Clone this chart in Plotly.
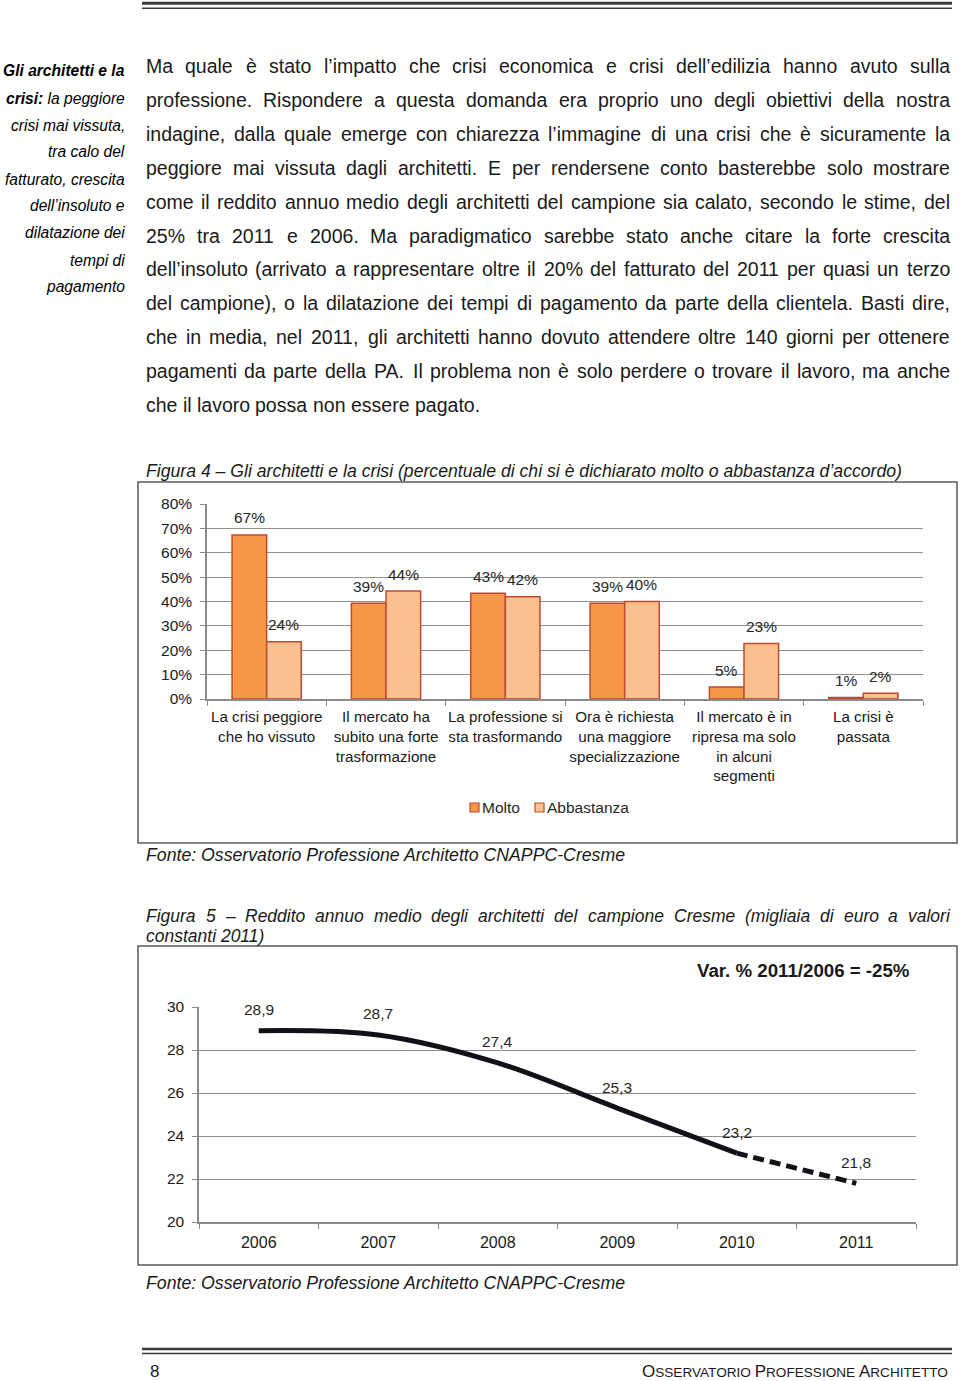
import plotly.graph_objects as go

W, H = 960, 1381


def px(x):
    return x / W


def py(y):
    return 1 - y / H


# ---------------- data ----------------
categories = [
    "La crisi peggiore<br>che ho vissuto",
    "Il mercato ha<br>subito una forte<br>trasformazione",
    "La professione si<br>sta trasformando",
    "Ora è richiesta<br>una maggiore<br>specializzazione",
    "Il mercato è in<br>ripresa ma solo<br>in alcuni<br>segmenti",
    "La crisi è<br>passata",
]
molto = [0.673, 0.393, 0.434, 0.393, 0.049, 0.006]
abbastanza = [0.235, 0.443, 0.420, 0.400, 0.228, 0.024]
molto_labels = ["67%", "39%", "43%", "39%", "5%", "1%"]
abbastanza_labels = ["24%", "44%", "42%", "40%", "23%", "2%"]
series_names = ["Molto", "Abbastanza"]

years = ["2006", "2007", "2008", "2009", "2010", "2011"]
reddito = [28.9, 28.7, 27.4, 25.3, 23.2, 21.8]
reddito_labels = ["28,9", "28,7", "27,4", "25,3", "23,2", "21,8"]

sidebar_lines = [
    "<b><i>Gli architetti e la</i></b>",
    "<b><i>crisi:</i></b><i> la peggiore</i>",
    "<i>crisi mai vissuta,</i>",
    "<i>tra calo del</i>",
    "<i>fatturato, crescita</i>",
    "<i>dell’insoluto e</i>",
    "<i>dilatazione dei</i>",
    "<i>tempi di</i>",
    "<i>pagamento</i>",
]

body_lines = [
    "Ma quale è stato l’impatto che crisi economica e crisi dell’edilizia hanno avuto sulla",
    "professione. Rispondere a questa domanda era proprio uno degli obiettivi della nostra",
    "indagine, dalla quale emerge con chiarezza l’immagine di una crisi che è sicuramente la",
    "peggiore mai vissuta dagli architetti. E per rendersene conto basterebbe solo mostrare",
    "come il reddito annuo medio degli architetti del campione sia calato, secondo le stime, del",
    "25% tra 2011 e 2006. Ma paradigmatico sarebbe stato anche citare la forte crescita",
    "dell’insoluto (arrivato a rappresentare oltre il 20% del fatturato del 2011 per quasi un terzo",
    "del campione), o la dilatazione dei tempi di pagamento da parte della clientela. Basti dire,",
    "che in media, nel 2011, gli architetti hanno dovuto attendere oltre 140 giorni per ottenere",
    "pagamenti da parte della PA. Il problema non è solo perdere o trovare il lavoro, ma anche",
    "che il lavoro possa non essere pagato.",
]

fig4_caption = "Figura 4 – Gli architetti e la crisi (percentuale di chi si è dichiarato molto o abbastanza d’accordo)"
fig5_caption = [
    "Figura 5 – Reddito annuo medio degli architetti del campione Cresme (migliaia di euro a valori",
    "constanti 2011)",
]
fonte_text = "Fonte: Osservatorio Professione Architetto CNAPPC-Cresme"
var_text = "Var. % 2011/2006 = -25%"

# ---------------- styles ----------------
FONT = "Liberation Sans, Arial, sans-serif"
C_MOLTO = "#F79646"
C_ABB = "#FAC090"
C_EDGE = "#BE4B2F"
C_GRID = "#909090"
C_AXIS = "#8a8a8a"
C_TXT = "#262626"

# Arial metrics (per 1000 em)
_W = {" ": 278, "%": 889, "(": 333, ")": 333, ",": 278, "-": 333, ".": 278, "/": 278,
      ":": 278, "=": 584, "’": 222, "'": 191, "–": 556, "è": 556, "é": 556, "à": 556,
      "ò": 556, "ù": 556, "ì": 278}
for ch in "0123456789":
    _W[ch] = 556
_W.update(dict(zip("ABCDEFGHIJKLMNOPQRSTUVWXYZ",
                   [667, 667, 722, 722, 667, 611, 778, 722, 278, 500, 667, 556, 833, 722,
                    778, 667, 778, 722, 667, 611, 722, 667, 944, 667, 667, 611])))
_W.update(dict(zip("abcdefghijklmnopqrstuvwxyz",
                   [556, 556, 500, 556, 556, 278, 556, 556, 222, 222, 500, 222, 833, 556,
                    556, 556, 556, 333, 500, 278, 556, 500, 722, 500, 500, 500])))


def text_w(s, size):
    return sum(_W.get(c, 556) for c in s) * size / 1000.0


annotations = []


def ann(x, y, text, size, color="#000", xanchor="left", yanchor="middle", **kw):
    annotations.append(dict(
        xref="paper", yref="paper", x=px(x), y=py(y), text=text, showarrow=False,
        xanchor=xanchor, yanchor=yanchor, borderpad=0,
        font=dict(family=FONT, size=size, color=color), **kw))


def justified(line, y, x0, x1, size, color, wrap=("", ""), last=False):
    words = line.split(" ")
    widths = [text_w(w, size) for w in words]
    if last or len(words) == 1:
        gap = text_w(" ", size)
    else:
        gap = (x1 - x0 - sum(widths)) / (len(words) - 1)
    x = x0
    for w, wd in zip(words, widths):
        ann(x, y, wrap[0] + w + wrap[1], size, color)
        x += wd + gap


# ---------------- page text ----------------
for i, t in enumerate(sidebar_lines):
    ann(126, 71 + i * 27, t, 15.6, "#000", xanchor="right")

BODY_SIZE = 19.5
for i, line in enumerate(body_lines):
    justified(line, 66 + i * 33.9, 145, 949, BODY_SIZE, "#1a1a1a",
              last=(i == len(body_lines) - 1))

ann(145, 471, "<i>" + fig4_caption + "</i>", 17.65, "#1a1a1a")
ann(145, 855, "<i>" + fonte_text + "</i>", 17.7, "#1a1a1a")
justified(fig5_caption[0], 916, 145, 949, 17.5, "#1a1a1a", wrap=("<i>", "</i>"))
ann(145, 936, "<i>" + fig5_caption[1] + "</i>", 17.5, "#1a1a1a")
ann(145, 1283, "<i>" + fonte_text + "</i>", 17.7, "#1a1a1a")

ann(911, 970, "<b>" + var_text + "</b>", 18.7, "#1a1a1a", xanchor="right")

# footer
ann(149, 1371, "8", 17, "#1a1a1a")
sc = lambda big, small: '<span style="font-size:17px">' + big + "</span>" + small
ann(949, 1371, sc("O", "SSERVATORIO ") + sc("P", "ROFESSIONE ") + sc("A", "RCHITETTO"),
    13.6, "#1a1a1a", xanchor="right")

# ---------------- bar chart (Figura 4) ----------------
fig = go.Figure()
fig.add_trace(go.Bar(x=categories, y=molto, name=series_names[0],
                     marker=dict(color=C_MOLTO, line=dict(color=C_EDGE, width=1.5)),
                     xaxis="x", yaxis="y", showlegend=False, hoverinfo="skip"))
fig.add_trace(go.Bar(x=categories, y=abbastanza, name=series_names[1],
                     marker=dict(color=C_ABB, line=dict(color=C_EDGE, width=1.5)),
                     xaxis="x", yaxis="y", showlegend=False, hoverinfo="skip"))

for i, (v, lab) in enumerate(zip(molto, molto_labels)):
    annotations.append(dict(xref="x", yref="y", x=i, y=v, text=lab, showarrow=False,
                            xshift=-17.3, yshift=17, yanchor="middle",
                            font=dict(family=FONT, size=15.5, color=C_TXT)))
for i, (v, lab) in enumerate(zip(abbastanza, abbastanza_labels)):
    annotations.append(dict(xref="x", yref="y", x=i, y=v, text=lab, showarrow=False,
                            xshift=17.3, yshift=17, yanchor="middle",
                            font=dict(family=FONT, size=15.5, color=C_TXT)))

# custom legend
shapes = []
leg_items = [(470, C_MOLTO, series_names[0]), (535, C_ABB, series_names[1])]
for lx, col, name in leg_items:
    shapes.append(dict(type="rect", xref="paper", yref="paper",
                       x0=px(lx), x1=px(lx + 9), y0=py(812), y1=py(803),
                       fillcolor=col, line=dict(color=C_EDGE, width=1.2)))
    ann(lx + 11, 807, name, 15.5, C_TXT)

# ---------------- line chart (Figura 5) ----------------
fig.add_trace(go.Scatter(x=years[:5], y=reddito[:5], mode="lines",
                         line=dict(color="#111118", width=5, shape="spline", smoothing=1),
                         xaxis="x2", yaxis="y2", showlegend=False, hoverinfo="skip"))
fig.add_trace(go.Scatter(x=years[4:], y=reddito[4:], mode="lines",
                         line=dict(color="#111118", width=5, dash="11px,6px"),
                         xaxis="x2", yaxis="y2", showlegend=False, hoverinfo="skip"))
for i, (v, lab) in enumerate(zip(reddito, reddito_labels)):
    annotations.append(dict(xref="x2", yref="y2", x=i, y=v, text=lab, showarrow=False,
                            yshift=21, yanchor="middle",
                            font=dict(family=FONT, size=15.5, color=C_TXT)))

# frames and rules
shapes += [
    dict(type="rect", xref="paper", yref="paper", x0=px(138), x1=px(957), y0=py(843), y1=py(482),
         line=dict(color="#5a5a5a", width=1.5)),
    dict(type="rect", xref="paper", yref="paper", x0=px(138), x1=px(957), y0=py(1265), y1=py(946),
         line=dict(color="#5a5a5a", width=1.5)),
    dict(type="line", xref="paper", yref="paper", x0=px(142), x1=px(952), y0=py(3.3), y1=py(3.3),
         line=dict(color="#3a3a3a", width=3)),
    dict(type="line", xref="paper", yref="paper", x0=px(142), x1=px(952), y0=py(8.3), y1=py(8.3),
         line=dict(color="#3a3a3a", width=1.5)),
    dict(type="line", xref="paper", yref="paper", x0=px(142), x1=px(952), y0=py(1349), y1=py(1349),
         line=dict(color="#3a3a3a", width=2.5)),
    dict(type="line", xref="paper", yref="paper", x0=px(142), x1=px(952), y0=py(1353.5), y1=py(1353.5),
         line=dict(color="#3a3a3a", width=1.5)),
]

axis_common = dict(showline=True, linecolor=C_AXIS, linewidth=1.5, ticks="outside",
                   ticklen=5, tickcolor=C_AXIS, tickwidth=1.3, fixedrange=True, zeroline=False,
                   automargin=False)

fig.update_layout(
    width=W, height=H, autosize=False,
    margin=dict(l=0, r=0, t=0, b=0, pad=0, autoexpand=False),
    paper_bgcolor="white", plot_bgcolor="rgba(0,0,0,0)",
    barmode="group", bargap=0.42, bargroupgap=0,
    showlegend=False,
    font=dict(family=FONT, color=C_TXT),
    xaxis=dict(domain=[px(207), px(923)], anchor="y", type="category", tickson="boundaries",
               range=[-0.5, 5.5], autorange=False, tickangle=0,
               showgrid=False, tickfont=dict(size=15.2, color="#1a1a1a"),
               ticklabelstandoff=3, **axis_common),
    yaxis=dict(domain=[py(699), py(504)], anchor="x", range=[0, 0.8], dtick=0.1,
               tickformat=".0%", showgrid=True, gridcolor=C_GRID, gridwidth=1.4,
               tickfont=dict(size=15.5, color="#1a1a1a"), ticklabelstandoff=5, **axis_common),
    xaxis2=dict(domain=[px(199), px(916)], anchor="y2", type="category", tickson="boundaries",
                range=[-0.5, 5.5], autorange=False, tickangle=0,
                showgrid=False, tickfont=dict(size=16, color="#1a1a1a"),
                ticklabelstandoff=5, **axis_common),
    yaxis2=dict(domain=[py(1222), py(1007)], anchor="x2", range=[20, 30], dtick=2,
                showgrid=True, gridcolor=C_GRID, gridwidth=1.4,
                tickfont=dict(size=15.5, color="#1a1a1a"), ticklabelstandoff=5, **axis_common),
    annotations=annotations,
    shapes=shapes,
)

fig.write_html(
    "out.html",
    config={"responsive": False, "displayModeBar": False},
    post_script=(
        "document.documentElement.style.margin='0';"
        "document.documentElement.style.padding='0';"
        "document.body.style.margin='0';"
        "document.body.style.padding='0';"
        "document.body.style.overflow='hidden';"
    ),
)
